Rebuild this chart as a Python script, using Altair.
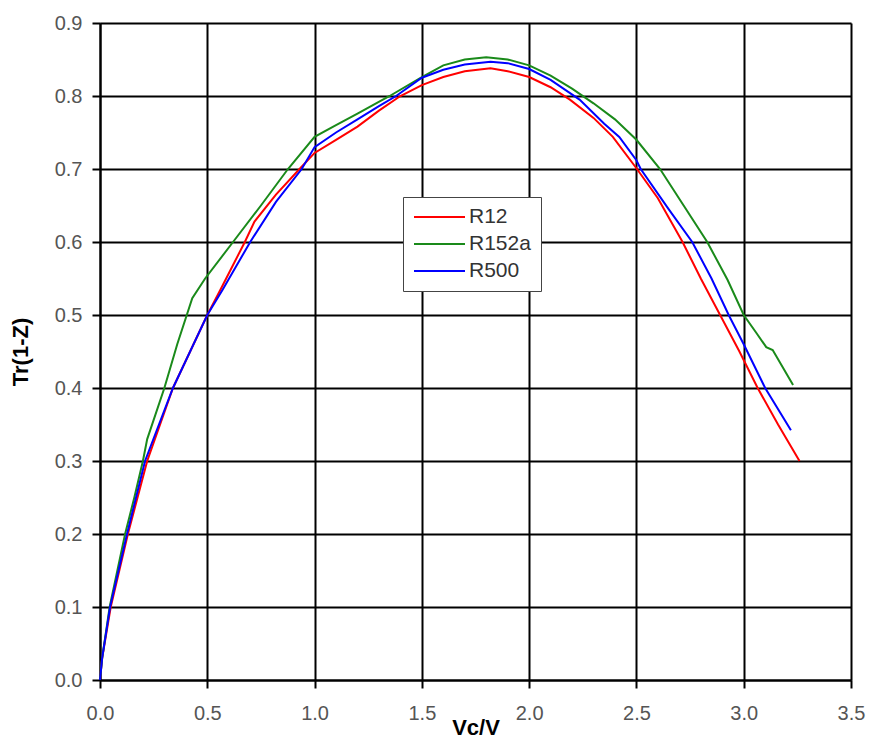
import altair as alt
import pandas as pd

# R12 (red)
r12_x = [0, 0.01, 0.05, 0.13, 0.22, 0.34, 0.42, 0.5, 0.56, 0.675, 0.72, 0.82, 0.93, 1.0, 1.1, 1.2, 1.3, 1.4,
         1.5, 1.6, 1.7, 1.82, 1.9, 2.0, 2.1, 2.19, 2.3, 2.39, 2.5, 2.6, 2.715, 2.80, 2.89, 2.98, 3.065, 3.16, 3.26]
r12_y = [0, 0.03, 0.1, 0.2, 0.3, 0.4, 0.45, 0.5, 0.534, 0.6, 0.628, 0.665, 0.7, 0.722, 0.74, 0.758, 0.78, 0.8,
         0.815, 0.826, 0.834, 0.838, 0.834, 0.826, 0.812, 0.795, 0.77, 0.744, 0.701, 0.66, 0.6, 0.55, 0.5, 0.45, 0.4, 0.35, 0.30]

# R152a (green)
r152a_x = [0, 0.01, 0.045, 0.117, 0.16, 0.2, 0.22, 0.30, 0.36, 0.43, 0.49, 0.62, 0.75, 0.876, 1.0, 1.1, 1.2, 1.35,
           1.5, 1.6, 1.7, 1.8, 1.9, 2.0, 2.1, 2.2, 2.3, 2.4, 2.5, 2.61, 2.72, 2.83, 2.925, 3.0, 3.06, 3.105, 3.135, 3.23]
r152a_y = [0, 0.03, 0.1, 0.2, 0.25, 0.3, 0.33, 0.40, 0.46, 0.523, 0.55, 0.6, 0.65, 0.7, 0.744, 0.76, 0.776, 0.8,
           0.826, 0.842, 0.85, 0.853, 0.85, 0.842, 0.828, 0.81, 0.79, 0.768, 0.74, 0.7, 0.65, 0.6, 0.548, 0.5, 0.475, 0.456, 0.452, 0.404]

# R500 (blue)
r500_x = [0, 0.01, 0.047, 0.126, 0.21, 0.34, 0.42, 0.5, 0.57, 0.70, 0.82, 0.94, 1.0, 1.1, 1.2, 1.3, 1.38,
          1.5, 1.6, 1.7, 1.82, 1.9, 2.0, 2.1, 2.235, 2.35, 2.42, 2.5, 2.52, 2.65, 2.76, 2.85, 2.93, 3.0, 3.10, 3.22]
r500_y = [0, 0.03, 0.1, 0.2, 0.3, 0.4, 0.45, 0.5, 0.534, 0.6, 0.655, 0.7, 0.73, 0.75, 0.768, 0.786, 0.8,
          0.825, 0.836, 0.843, 0.847, 0.845, 0.837, 0.822, 0.795, 0.762, 0.744, 0.712, 0.7, 0.645, 0.6, 0.55, 0.5, 0.46, 0.4, 0.342]

series_names = ["R12", "R152a", "R500"]
series_colors = ["#ff0000", "#1a8a1a", "#0000ff"]
x_ticks = [0, 0.5, 1.0, 1.5, 2.0, 2.5, 3.0, 3.5]
y_ticks = [0, 0.1, 0.2, 0.3, 0.4, 0.5, 0.6, 0.7, 0.8, 0.9]

rows = []
for name, xs, ys in [("R12", r12_x, r12_y), ("R152a", r152a_x, r152a_y), ("R500", r500_x, r500_y)]:
    for i, (a, b) in enumerate(zip(xs, ys)):
        rows.append({"series": name, "x": a, "y": b, "i": i})
df = pd.DataFrame(rows)

FONT = "Liberation Sans"
common_axis = dict(
    format=".1f", labelFlush=False, labelOverlap=False,
    labelFont=FONT, labelFontSize=20, labelColor="#555555",
    titleFont=FONT, titleFontSize=22, titleFontWeight="bold", titleColor="black",
    tickSize=8, tickColor="black", tickWidth=2,
    domainColor="black", domainWidth=2,
    grid=True, gridColor="black", gridWidth=2, gridOpacity=1,
)

chart = alt.Chart(df).mark_line(strokeWidth=2).encode(
    x=alt.X("x:Q", scale=alt.Scale(domain=[0, 3.5], nice=False, zero=False),
            axis=alt.Axis(values=x_ticks, title="Vc/V", labelPadding=15, titleY=37, **common_axis)),
    y=alt.Y("y:Q", scale=alt.Scale(domain=[0, 0.9], nice=False),
            axis=alt.Axis(values=y_ticks, title="Tr(1-Z)", labelPadding=10, titlePadding=22, **common_axis)),
    color=alt.Color("series:N", scale=alt.Scale(domain=series_names, range=series_colors),
                    legend=alt.Legend(title=None, orient="none", legendX=303, legendY=174,
                                      fillColor="white", strokeColor="#444444", padding=10,
                                      symbolType="stroke", symbolSize=2601, symbolStrokeWidth=2,
                                      clipHeight=20, rowPadding=6, labelOffset=3,
                                      labelFontSize=21, labelFont=FONT, labelColor="#333333")),
    order="i:Q",
).properties(
    width=751, height=657,
    autosize=alt.AutoSizeParams(type="none"),
    padding={"left": 100, "top": 23, "right": 20, "bottom": 62},
).configure_view(
    stroke="black", strokeWidth=2
).configure(background="white")

chart.save("out.html", embed_options={"renderer": "svg", "actions": False})
